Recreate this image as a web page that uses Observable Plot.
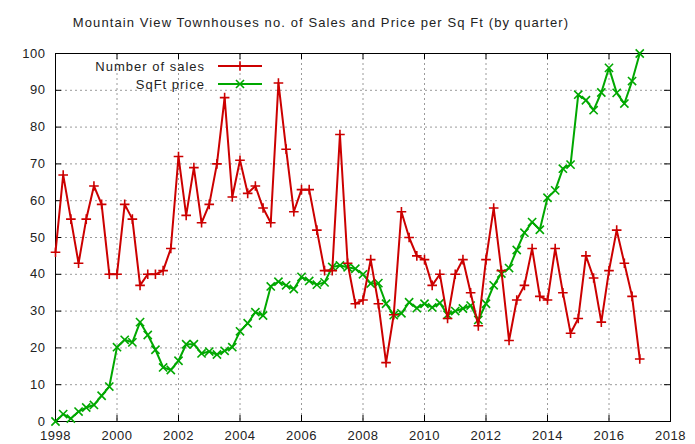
<!DOCTYPE html>
<html>
<head>
<meta charset="utf-8">
<script src="https://cdn.jsdelivr.net/npm/d3@7"></script>
<script src="https://cdn.jsdelivr.net/npm/@observablehq/plot@0.6"></script>
<style>
  html, body { margin: 0; padding: 0; background: #fff; }
  svg { display: block; }
</style>
</head>
<body>
<div id="chart"></div>
<script>
const title = "Mountain View Townhouses no. of Sales and Price per Sq Ft (by quarter)";
const seriesNames = ["Number of sales", "SqFt price"];
const startYear = 1998; // first quarter of the series, one point per quarter
const sales = [46, 67, 55, 43, 55, 64, 59, 40, 40, 59, 55, 37, 40, 40, 41, 47,
  72, 56, 69, 54, 59, 70, 88, 61, 71, 62, 64, 58, 54, 92, 74, 57,
  63, 63, 52, 41, 41, 78, 43, 32, 33, 44, 32, 16, 29, 57, 50, 45,
  44, 37, 40, 28, 40, 44, 35, 26, 44, 58, 41, 22, 33, 37, 47, 34,
  33, 47, 35, 24, 28, 45, 39, 27, 41, 52, 43, 34, 17];
const sqftPrice = [0, 2, 0.8, 2.7, 3.8, 4.5, 7, 9.5, 20.2, 22.2, 21.5, 27, 23.5, 19.5, 14.7, 14,
  16.5, 21, 21, 18.5, 19, 18.2, 19.2, 20.2, 24.5, 26.7, 29.7, 28.8, 36.7, 38, 37, 36,
  39.3, 38.2, 37.2, 37.8, 42, 42.4, 41.9, 41.5, 40, 37.5, 37.6, 32, 28.9, 29.4, 32.4, 30.8,
  32, 31, 32.2, 29, 30, 30.7, 31.5, 27.6, 32, 37, 40.2, 41.7, 46.6, 51.3, 54.2, 52.1,
  60.8, 62.8, 68.7, 69.8, 88.8, 87.3, 84.6, 89.4, 96.1, 89.3, 86.4, 92.5, 100];
const xTicks = [1998, 2000, 2002, 2004, 2006, 2008, 2010, 2012, 2014, 2016, 2018];
const yTicks = [0, 10, 20, 30, 40, 50, 60, 70, 80, 90, 100];

const RED = "#cc0000", GREEN = "#00a800";
const FONT = "Liberation Sans, Arial, sans-serif";

const data = sales.map((s, i) => ({t: startYear + i / 4, sales: s, price: sqftPrice[i]}));
const [x0, x1] = [xTicks[0], xTicks[xTicks.length - 1]];
const [y0, y1] = [yTicks[0], yTicks[yTicks.length - 1]];
const gridDash = {stroke: "#9a9a9a", strokeWidth: 1, strokeDasharray: "2,3"};

const plot = Plot.plot({
  width: 695,
  height: 444,
  marginLeft: 55,
  marginRight: 25,
  marginTop: 53,
  marginBottom: 23,
  style: {fontFamily: FONT, fontSize: "13px", color: "#222", background: "#fff", overflow: "visible"},
  x: {domain: [x0, x1], ticks: xTicks, tickFormat: d => String(d), label: null},
  y: {domain: [y0, y1], ticks: yTicks, label: null},
  marks: [
    Plot.ruleX(xTicks.slice(1, -1), {x: d => d, ...gridDash}),
    Plot.ruleY(yTicks.slice(1, -1), {y: d => d, ...gridDash}),
    // inward tick marks (bottom/top, left/right)
    Plot.ruleX(xTicks, {x: d => d, y1: () => y0, y2: () => y0, insetTop: -6, stroke: "#000"}),
    Plot.ruleX(xTicks, {x: d => d, y1: () => y1, y2: () => y1, insetBottom: -6, stroke: "#000"}),
    Plot.ruleY(yTicks, {y: d => d, x1: () => x0, x2: () => x0, insetRight: -6, stroke: "#000"}),
    Plot.ruleY(yTicks, {y: d => d, x1: () => x1, x2: () => x1, insetLeft: -6, stroke: "#000"}),
    Plot.frame({stroke: "#000", strokeWidth: 1}),
    Plot.axisX({ticks: xTicks, tickFormat: d => String(d), tickSize: 0, tickPadding: 9, fontSize: 13, fill: "#222", label: null}),
    Plot.axisY({ticks: yTicks, tickSize: 0, tickPadding: 10, fontSize: 13, fill: "#222", label: null}),
    Plot.line(data, {x: "t", y: "price", stroke: GREEN, strokeWidth: 2}),
    Plot.dot(data, {x: "t", y: "price", symbol: "times", r: 3.8, stroke: GREEN, strokeWidth: 1.6}),
    Plot.line(data, {x: "t", y: "sales", stroke: RED, strokeWidth: 2}),
    Plot.dot(data, {x: "t", y: "sales", symbol: "plus", r: 3.2, stroke: RED, strokeWidth: 1.6})
  ]
});

const svg = d3.select(plot);
svg.selectAll("g[aria-label='x-axis tick label'] text, g[aria-label='y-axis tick label'] text")
  .attr("letter-spacing", "0.5px");
svg.append("text")
  .attr("x", 321).attr("y", 27)
  .attr("text-anchor", "middle")
  .attr("font-family", FONT).attr("font-size", 13).attr("letter-spacing", "1.1px").attr("fill", "#222")
  .text(title);

// legend (inside plot, top-left)
const legend = svg.append("g").attr("font-family", FONT).attr("font-size", 13).attr("letter-spacing", "1px");
const legendItems = [
  {name: seriesNames[0], color: RED, sym: d3.symbolPlus, size: 30},
  {name: seriesNames[1], color: GREEN, sym: d3.symbolTimes, size: 44}
];
legendItems.forEach((it, k) => {
  const yy = 66 + k * 18;
  legend.append("text").attr("x", 205).attr("y", yy).attr("dy", "0.35em")
    .attr("text-anchor", "end").attr("fill", "#222").text(it.name);
  legend.append("line").attr("x1", 218).attr("x2", 262).attr("y1", yy).attr("y2", yy)
    .attr("stroke", it.color).attr("stroke-width", 2);
  legend.append("path").attr("d", d3.symbol(it.sym, it.size)())
    .attr("transform", `translate(240,${yy})`)
    .attr("fill", "none").attr("stroke", it.color).attr("stroke-width", 1.6);
});

document.getElementById("chart").appendChild(plot);
</script>
</body>
</html>
